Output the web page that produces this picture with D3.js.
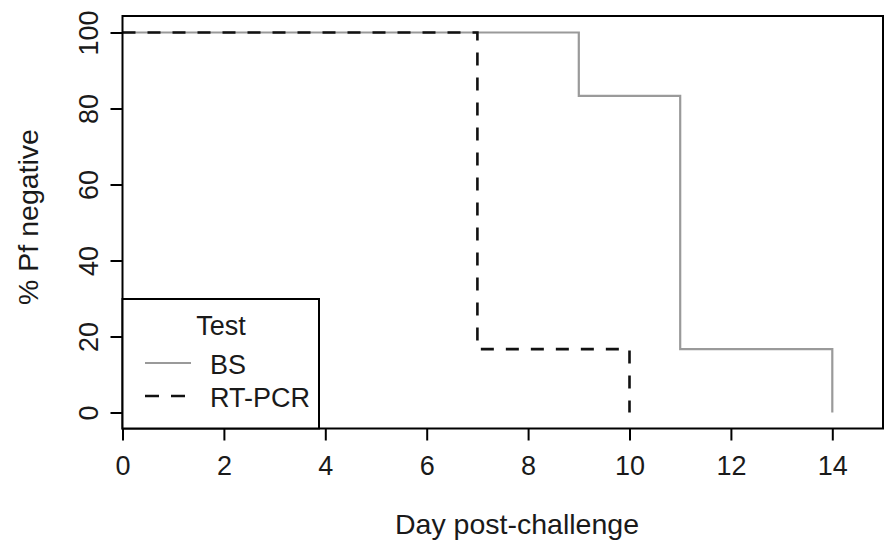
<!DOCTYPE html>
<html>
<head>
<meta charset="utf-8">
<script src="https://cdn.jsdelivr.net/npm/d3@7"></script>
<style>
  html, body { margin: 0; padding: 0; background: #fff; }
  svg { display: block; font-family: "Liberation Sans", Arial, Helvetica, sans-serif; }
</style>
</head>
<body>
<svg id="chart" width="888" height="542"></svg>
<script>
// ---- data ----
const xTicks = [0, 2, 4, 6, 8, 10, 12, 14];
const yTicks = [0, 20, 40, 60, 80, 100];
const bsDays = [0, 9, 11, 14];
const bsPct = [100, 83.33, 16.67, 0];
const pcrDays = [0, 7, 10];
const pcrPct = [100, 16.67, 0];
const seriesNames = ["BS", "RT-PCR"];
const legendTitle = "Test";
const xTitle = "Day post-challenge";
const yTitle = "% Pf negative";

// ---- layout ----
const box = { left: 122.5, right: 883, top: 16, bottom: 428.5 };
const svg = d3.select("#chart");

const x = d3.scaleLinear().domain([0, 15]).range([box.left, box.right]);
const y = d3.scaleLinear().domain([0, 100]).range([412.5, 32.5]);

const fontSize = 27;
const titleSize = 28.5;
const txtColor = "#1a1a1a";

// x axis
const xAxis = d3.axisBottom(x).tickValues(xTicks).tickSize(12).tickPadding(15).tickFormat(d3.format("d"));
const gx = svg.append("g").attr("transform", `translate(0,${box.bottom})`).call(xAxis);
gx.select(".domain").remove();
gx.selectAll("line").attr("stroke", "#000").attr("stroke-width", 2);
gx.selectAll("text").attr("font-size", fontSize).attr("fill", txtColor).attr("font-family", "Liberation Sans, Arial, sans-serif");

// y axis
const yAxis = d3.axisLeft(y).tickValues(yTicks).tickSize(12).tickPadding(0).tickFormat(d3.format("d"));
const gy = svg.append("g").attr("transform", `translate(${box.left},0)`).call(yAxis);
gy.select(".domain").remove();
gy.selectAll("line").attr("stroke", "#000").attr("stroke-width", 2);
gy.selectAll("text")
  .attr("font-size", fontSize).attr("fill", txtColor)
  .attr("font-family", "Liberation Sans, Arial, sans-serif")
  .attr("x", null).attr("dy", null)
  .attr("text-anchor", "middle")
  .attr("transform", "translate(-25,0) rotate(-90)");

// series lines
const line = d3.line().x(d => x(d[0])).y(d => y(d[1])).curve(d3.curveStepAfter);
svg.append("path")
  .datum(bsDays.map((d, i) => [d, bsPct[i]]))
  .attr("d", line).attr("fill", "none").attr("stroke", "#9a9a9a").attr("stroke-width", 2.2);
svg.append("path")
  .datum(pcrDays.map((d, i) => [d, pcrPct[i]]))
  .attr("d", line).attr("fill", "none").attr("stroke", "#111").attr("stroke-width", 2.6)
  .attr("stroke-dasharray", "13,12");

// plot frame
svg.append("rect")
  .attr("x", box.left).attr("y", box.top)
  .attr("width", box.right - box.left).attr("height", box.bottom - box.top)
  .attr("fill", "none").attr("stroke", "#000").attr("stroke-width", 2);

// axis titles
svg.append("text").attr("x", 517).attr("y", 534)
  .attr("text-anchor", "middle").attr("font-size", titleSize).attr("fill", txtColor).text(xTitle);
svg.append("text").attr("transform", `translate(38,217) rotate(-90)`)
  .attr("text-anchor", "middle").attr("font-size", titleSize).attr("fill", txtColor).text(yTitle);

// legend
const lg = svg.append("g");
lg.append("rect").attr("x", box.left).attr("y", 299).attr("width", 319 - box.left).attr("height", box.bottom - 299)
  .attr("fill", "#fff").attr("stroke", "#000").attr("stroke-width", 2);
lg.append("text").attr("x", 221).attr("y", 335).attr("text-anchor", "middle")
  .attr("font-size", fontSize).attr("fill", txtColor).text(legendTitle);
const legendRows = [
  { name: seriesNames[0], color: "#9a9a9a", dash: null, w: 2.2, y: 363 },
  { name: seriesNames[1], color: "#111", dash: "14,12", w: 2.6, y: 396 }
];
legendRows.forEach(r => {
  const l = lg.append("line").attr("x1", 145).attr("x2", 191).attr("y1", r.y).attr("y2", r.y)
    .attr("stroke", r.color).attr("stroke-width", r.w);
  if (r.dash) l.attr("stroke-dasharray", r.dash);
  lg.append("text").attr("x", 210).attr("y", r.y + 11).attr("font-size", fontSize).attr("fill", txtColor).text(r.name);
});
</script>
</body>
</html>
